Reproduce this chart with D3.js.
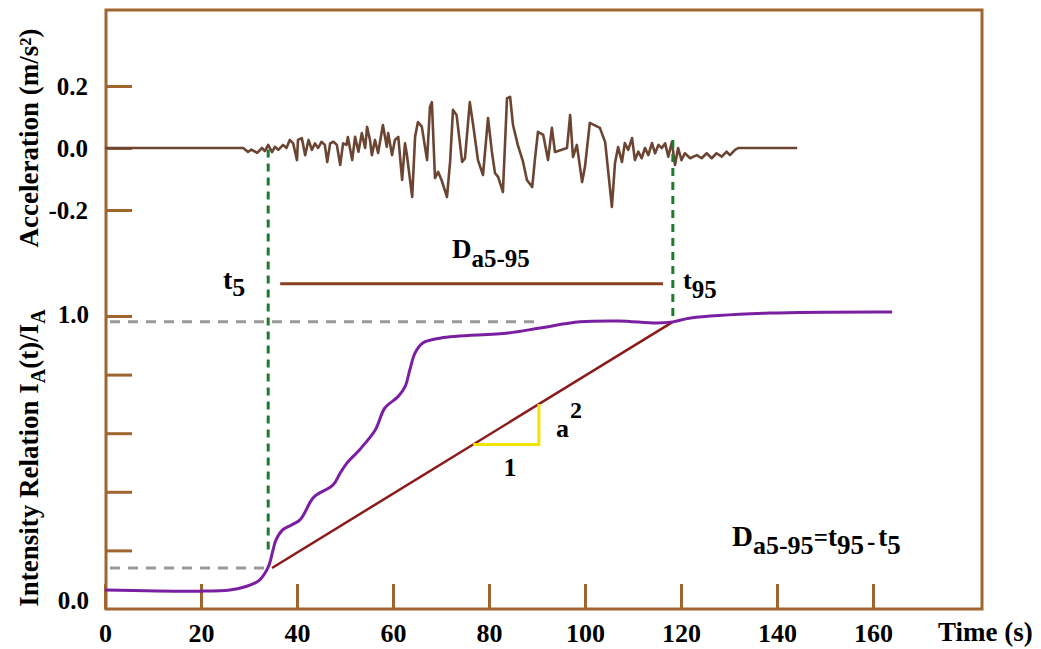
<!DOCTYPE html>
<html>
<head>
<meta charset="utf-8">
<script src="https://cdn.jsdelivr.net/npm/d3@7"></script>
<style>
  body { margin: 0; background: #fff; }
  svg { display: block; }
</style>
</head>
<body>
<div id="chart"></div>
<script>
// time axis ticks (s)
const timeTicks = [0, 20, 40, 60, 80, 100, 120, 140, 160];
const accTicks = [-0.2, 0.0, 0.2];
const intensityTicks = [0.2, 0.4, 0.6, 0.8, 1.0];
const intensityLabels = [0.0, 1.0];

// acceleration record [t (s), a (m/s^2)]
const accTime = [0, 28.8, 29.8, 30.5, 31.7, 32.7, 33.3, 34.0, 34.8, 35.4, 36.1, 37.1, 37.8, 38.5, 39.2, 40.0,
  40.2, 41.0, 41.7, 42.4, 43.1, 43.75, 44.4, 45.1, 45.8, 46.3, 46.9, 47.6, 48.3, 49.0, 49.6, 50.3, 50.6, 51.5,
  52.1, 52.8, 53.5, 54.2, 54.6, 55.2, 55.6, 56.25, 56.9, 57.9, 58.7, 59.0, 59.8, 60.4, 61.1, 61.9, 62.5, 62.85,
  64.0, 64.6, 65.2, 66.0, 67.1, 67.7, 68.1, 68.75, 69.4, 70.1, 71.25, 71.9, 72.5, 73.25, 74.4, 75.0, 76.0, 76.7,
  77.7, 78.75, 79.8, 80.6, 81.25, 81.9, 82.9, 83.75, 84.4, 85.0, 86.0, 87.1, 87.9, 89.0, 89.6, 90.2, 91.3, 92.3,
  93.1, 93.75, 96.25, 96.9, 97.5, 98.3, 99.4, 100.0, 101.0, 103.1, 104.2, 105.6, 106.25, 106.9, 107.7, 108.3,
  109.0, 109.8, 110.4, 111.1, 111.8, 112.5, 113.2, 113.95, 114.6, 115.3, 116.0, 116.7, 117.35, 118.1, 118.75,
  119.4, 120.1, 120.8, 121.9, 123.3, 124.3, 125.35, 126.4, 127.4, 128.5, 129.5, 130.2, 131.25, 131.9, 144.2];
const accValue = [0, 0, -0.013, -0.005, -0.016, 0, -0.01, 0.01, -0.013, 0.004, -0.006, 0.01, 0, 0.026, 0.015, -0.039,
  0.026, 0.032, -0.023, 0.026, -0.006, 0.015, 0, 0.02, 0.01, -0.045, 0.015, 0.02, 0.01, -0.055, 0.015, 0.01, 0.035, -0.039,
  0.036, -0.012, 0.048, 0, 0.068, 0.026, -0.023, 0.026, -0.016, 0.074, 0.004, 0.048, -0.023, 0.026, 0.036, -0.103, 0.015, -0.017,
  -0.158, 0.036, 0.084, 0.069, -0.039, 0.132, 0.148, -0.097, -0.077, -0.103, -0.158, -0.044, 0.123, 0.106, -0.045, -0.033, 0.148, 0.074,
  -0.039, -0.087, 0.097, -0.012, -0.081, -0.093, -0.142, 0.161, 0.165, 0.074, 0.01, -0.045, -0.103, -0.126, -0.032, 0.052, 0.042, -0.039,
  0.065, -0.013, 0, 0.106, -0.029, 0.01, -0.11, -0.06, 0.081, 0.065, 0.019, -0.19, -0.048, 0.003, -0.045, 0.016,
  -0.006, 0.032, -0.039, -0.012, -0.033, 0, -0.023, 0.016, -0.017, 0.01, 0, 0.015, -0.028, 0.019, -0.055,
  0, -0.039, -0.017, -0.033, -0.023, -0.033, -0.017, -0.033, -0.017, -0.028, -0.012, -0.023, -0.006, 0, 0];

// normalised Arias intensity I_A(t)/I_A
const intTime = [0, 20, 26, 29, 32, 34, 35, 35.6, 37, 40.6, 43.5, 47.5, 49, 50.4, 53, 56.3, 58.3, 61, 62.5,
  63.5, 64.6, 66.2, 70, 84, 90.6, 99, 107, 115, 118.3, 122, 138.5, 164];
const intValue = [0.065, 0.061, 0.065, 0.075, 0.096, 0.143, 0.201, 0.235, 0.27, 0.304, 0.382, 0.423, 0.464, 0.498,
  0.543, 0.611, 0.686, 0.724, 0.758, 0.816, 0.874, 0.908, 0.925, 0.942, 0.959, 0.98, 0.983, 0.976, 0.98, 0.993, 1.01, 1.014];

// significant duration markers
const t5 = 34.0;
const t95 = 118.3;
const level5 = 0.14;
const level95 = 0.98;
const slopeStart = [34.8, 0.14];
const slopeEnd = [118.3, 0.98];
const slopeTri = [76.7, 90.4];   // t range of the unit triangle
const durBar = [36.5, 116.25];

const width = 1041;
const height = 649;
const frame = {left: 106, right: 982, top: 10, bottom: 609};

const brown = '#a0652f';
const font = '"Liberation Serif", "Times New Roman", serif';
const fmt = (d) => d3.format('.1f')(d).replace('\u2212', '-');

const svg = d3.select('#chart').append('svg')
  .attr('width', width)
  .attr('height', height)
  .attr('font-family', font)
  .attr('font-weight', 'bold');

const x = d3.scaleLinear().domain([0, 160]).range([105, 873]);
const yAcc = d3.scaleLinear().domain([-0.2, 0.2]).range([210, 86]);
const yInt = d3.scaleLinear().domain([0, 1]).range([609, 316]);

// frame
svg.append('rect')
  .attr('x', frame.left)
  .attr('y', frame.top)
  .attr('width', frame.right - frame.left)
  .attr('height', frame.bottom - frame.top)
  .attr('fill', 'none')
  .attr('stroke', brown)
  .attr('stroke-width', 3);

function styleAxis(g, size) {
  g.select('.domain').remove();
  g.selectAll('.tick line').attr('stroke', brown).attr('stroke-width', 3);
  g.selectAll('.tick text').attr('fill', '#000').attr('font-size', size)
    .attr('font-family', font).attr('font-weight', 'bold');
}

// bottom axis, ticks pointing up
svg.append('g')
  .attr('transform', `translate(0,${frame.bottom})`)
  .call(d3.axisBottom(x).tickValues(timeTicks).tickSize(-25).tickPadding(15).tickFormat(d3.format('d')))
  .call(styleAxis, 26);
svg.append('text')
  .attr('x', 938).attr('y', 641)
  .attr('font-size', 27)
  .text('Time (s)');

// acceleration axis
svg.append('g')
  .attr('transform', `translate(${frame.left},0)`)
  .call(d3.axisLeft(yAcc).tickValues(accTicks).tickSize(-26).tickPadding(18).tickFormat(fmt))
  .call(styleAxis, 25);

// intensity axis: ticks at every 0.2, labels only at 0 and 1
svg.append('g')
  .attr('transform', `translate(${frame.left},0)`)
  .call(d3.axisLeft(yInt).tickValues(intensityTicks).tickSize(-26).tickFormat(''))
  .call(styleAxis, 25);
svg.append('g')
  .selectAll('text')
  .data(intensityLabels)
  .join('text')
  .attr('x', 89)
  .attr('y', (d) => d === 0 ? 600 : yInt(d) - 2)
  .attr('dy', '0.35em')
  .attr('text-anchor', 'end')
  .attr('font-size', 25)
  .text(fmt);

// axis titles
svg.append('text')
  .attr('transform', 'translate(38,138) rotate(-90)')
  .attr('text-anchor', 'middle')
  .attr('font-size', 27)
  .text('Acceleration  (m/s²)');

const intTitle = svg.append('text')
  .attr('transform', 'translate(38,458) rotate(-90)')
  .attr('text-anchor', 'middle')
  .attr('font-size', 27);
intTitle.append('tspan').text('Intensity Relation  I');
intTitle.append('tspan').attr('dy', 7).attr('font-size', 20).text('A');
intTitle.append('tspan').attr('dy', -7).text('(t)/I');
intTitle.append('tspan').attr('dy', 7).attr('font-size', 20).text('A');

// reference dashes
svg.append('line')
  .attr('x1', 110).attr('x2', x(91))
  .attr('y1', yInt(level95)).attr('y2', yInt(level95))
  .attr('stroke', '#999').attr('stroke-width', 3).attr('stroke-dasharray', '10,8');
svg.append('line')
  .attr('x1', 110).attr('x2', x(slopeStart[0]))
  .attr('y1', yInt(level5)).attr('y2', yInt(level5))
  .attr('stroke', '#999').attr('stroke-width', 3).attr('stroke-dasharray', '10,8');

// acceleration trace
const accData = accTime.map((t, i) => [t, accValue[i]]);
svg.append('path')
  .datum(accData)
  .attr('fill', 'none')
  .attr('stroke', '#6b4532')
  .attr('stroke-width', 2.6)
  .attr('stroke-linejoin', 'round')
  .attr('d', d3.line().x((d) => x(d[0])).y((d) => yAcc(d[1])));

// t5 and t95 verticals
svg.append('line')
  .attr('x1', x(t5)).attr('x2', x(t5))
  .attr('y1', yAcc(-0.005)).attr('y2', yInt(0.19))
  .attr('stroke', '#1e7b2e').attr('stroke-width', 3).attr('stroke-dasharray', '8,6');
svg.append('line')
  .attr('x1', x(t95)).attr('x2', x(t95))
  .attr('y1', yAcc(0.026)).attr('y2', yInt(level95))
  .attr('stroke', '#1e7b2e').attr('stroke-width', 3).attr('stroke-dasharray', '8,6');

// duration bar
svg.append('line')
  .attr('x1', x(durBar[0])).attr('x2', x(durBar[1]))
  .attr('y1', yInt(1.11)).attr('y2', yInt(1.11))
  .attr('stroke', '#8b3f1f').attr('stroke-width', 3);

// linear approximation and unit triangle
svg.append('line')
  .attr('x1', x(slopeStart[0])).attr('y1', yInt(slopeStart[1]))
  .attr('x2', x(slopeEnd[0])).attr('y2', yInt(slopeEnd[1]))
  .attr('stroke', '#8b1a1a').attr('stroke-width', 2.5);

const slopeAt = (t) => slopeStart[1] + (t - slopeStart[0]) / (slopeEnd[0] - slopeStart[0]) * (slopeEnd[1] - slopeStart[1]);
svg.append('path')
  .attr('fill', 'none')
  .attr('stroke', '#f2e400')
  .attr('stroke-width', 3)
  .attr('d', d3.line()([
    [x(slopeTri[0]), yInt(slopeAt(slopeTri[0]))],
    [x(slopeTri[1]), yInt(slopeAt(slopeTri[0]))],
    [x(slopeTri[1]), yInt(slopeAt(slopeTri[1]))],
  ]));

// intensity curve
const intData = intTime.map((t, i) => [t, intValue[i]]);
svg.append('path')
  .datum(intData)
  .attr('fill', 'none')
  .attr('stroke', '#7b1fa2')
  .attr('stroke-width', 3)
  .attr('d', d3.line().curve(d3.curveCatmullRom).x((d) => x(d[0])).y((d) => yInt(d[1])));

// labels
function subLabel(px, py, main, sub, size, subSize, drop) {
  const t = svg.append('text').attr('x', px).attr('y', py).attr('font-size', size);
  t.append('tspan').text(main);
  t.append('tspan').attr('dy', drop).attr('font-size', subSize).text(sub);
  return t;
}
subLabel(223, 289, 't', '5', 28, 26, 7);
subLabel(683, 289, 't', '95', 26, 25, 9);
subLabel(452, 258, 'D', 'a5-95', 27, 25, 9);

const eq = svg.append('text').attr('x', 732).attr('y', 546).attr('font-size', 29);
eq.append('tspan').text('D');
eq.append('tspan').attr('dy', 8).attr('font-size', 26).text('a5-95');
eq.append('tspan').attr('dy', -8).attr('font-size', 25).text('=');
eq.append('tspan').attr('font-size', 27).text('t');
eq.append('tspan').attr('dy', 8).attr('font-size', 27).text('95');
eq.append('tspan').attr('dx', 3).attr('dy', -4).attr('font-size', 25).text('-');
eq.append('tspan').attr('dy', -4).attr('dx', 3).attr('font-size', 27).text('t');
eq.append('tspan').attr('dy', 8).attr('font-size', 27).text('5');

svg.append('text').attr('x', 510).attr('y', 476).attr('text-anchor', 'middle').attr('font-size', 26).text('1');
svg.append('text').attr('x', 556).attr('y', 437).attr('font-size', 26).text('a');
svg.append('text').attr('x', 570).attr('y', 418).attr('font-size', 24).text('2');
</script>
</body>
</html>
